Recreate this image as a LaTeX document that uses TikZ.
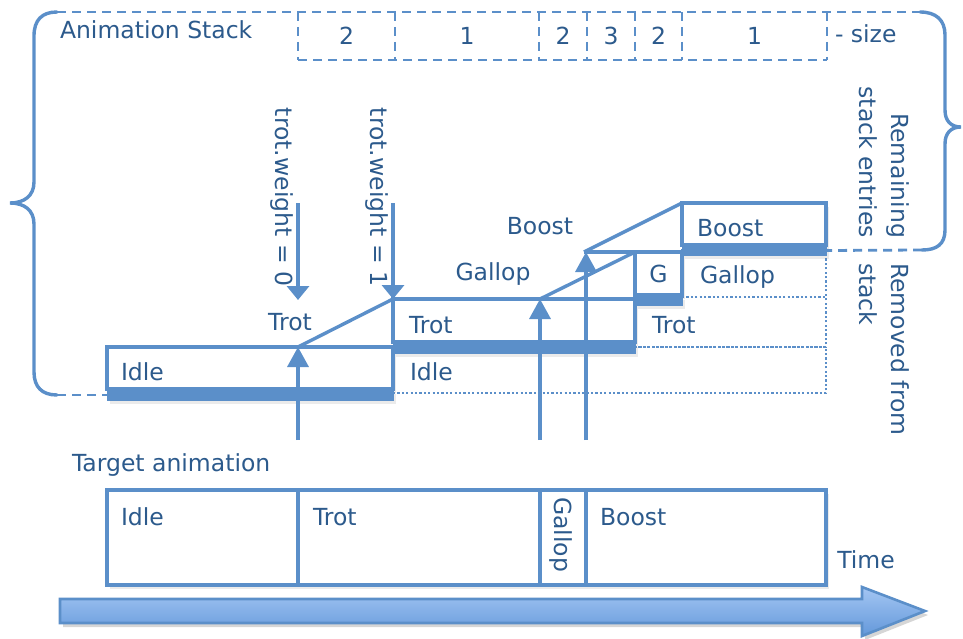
\documentclass[tikz,border=0pt]{standalone}
\usepackage{fontspec}
\setmainfont{DejaVu Sans}
\usetikzlibrary{arrows.meta,shadows}
\definecolor{ln}{HTML}{5B8FC9}
\definecolor{tx}{HTML}{2C5A8C}
\definecolor{arrtop}{HTML}{A4C6F3}
\definecolor{arrbot}{HTML}{6398DA}
\begin{document}
\begin{tikzpicture}[x=1pt,y=-1pt,
  shd/.style={drop shadow={opacity=0.16, shadow xshift=3pt, shadow yshift=-4pt}},
  lbl/.style={text=tx, font=\fontsize{23.5}{32}\selectfont, inner sep=0pt, outer sep=0pt},
  cell/.style={lbl, minimum height=48pt, anchor=north west},
  box/.style={draw=ln, line width=3.4pt, fill=white, inner sep=0pt, outer sep=0pt, anchor=north west},
  bar/.style={fill=ln, draw=ln, line width=1pt, inner sep=0pt, outer sep=0pt, anchor=north west},
  rem/.style={draw=ln, line width=2.4pt, dash pattern=on 2.2pt off 2.2pt, inner sep=0pt, outer sep=0pt, anchor=north west},
  dsh/.style={draw=ln, line width=2.8pt, dash pattern=on 9pt off 6pt},
  brace/.style={draw=ln, line width=3.4pt, line cap=round},
  ramp/.style={draw=ln, line width=3.4pt},
  uparr/.style={draw=ln, line width=3.4pt, -{Triangle[width=21pt,length=20pt]}},
  dnarr/.style={draw=ln, line width=3.4pt, -{Triangle[width=22pt,length=14pt]}},
]
\useasboundingbox (0,0) rectangle (963,639);

% ---------- stack cells ----------
\node[cell, minimum width=97pt] (c1) at (298,12) {2};
\node[cell, minimum width=144pt] (c2) at (395,12) {1};
\node[cell, minimum width=48pt] (c3) at (539,12) {2};
\node[cell, minimum width=48pt] (c4) at (587,12) {3};
\node[cell, minimum width=47pt] (c5) at (635,12) {2};
\node[cell, minimum width=145pt] (c6) at (682,12) {1};
\node[lbl, anchor=west] (size) at (835,34) {- size};
\node[lbl, anchor=west] (title) at (60,30) {Animation Stack};

\coordinate (tl) at (57,12);
\coordinate (tr) at (920,12);
\draw[dsh] (tl) -- (tr);
\draw[dsh] (c1.south west) -- (c6.south east);
\foreach \c in {c1,c2,c3,c4,c5,c6} \draw[dsh] (\c.north west) -- (\c.south west);
\draw[dsh] (c6.north east) -- (c6.south east);

% ---------- removed (dotted) entries ----------
\node[rem, minimum width=433pt, minimum height=46pt] (ridle) at (393,347) {};
\node[rem, minimum width=191pt, minimum height=50pt] (rtrot) at (635,297) {};
\node[rem, minimum width=144pt, minimum height=47pt] (rgallop) at (682,250) {};
\node[lbl, anchor=west] at (410,372) {Idle};
\node[lbl, anchor=west] at (652,325) {Trot};
\node[lbl, anchor=west] at (700,277) {Gallop};

% ---------- stack boxes ----------
\node[box, shd, minimum width=286pt, minimum height=42pt] (idle) at (107,347) {};
\node[bar, shd, minimum width=286pt, minimum height=10pt] (idlebar) at (107,390) {};
\node[box, shd, minimum width=242pt, minimum height=43pt] (trot) at (393,299) {};
\node[bar, shd, minimum width=242pt, minimum height=10pt] (trotbar) at (393,343) {};
\node[box, shd, minimum width=47pt, minimum height=43pt] (g) at (635,252) {};
\node[bar, shd, minimum width=47pt, minimum height=9pt] (gbar) at (635,296) {};
\node[box, shd, minimum width=144pt, minimum height=42pt] (boost) at (682,203) {};
\node[bar, shd, minimum width=144pt, minimum height=9pt] (boostbar) at (682,246) {};

\node[lbl, anchor=west] at (121,372) {Idle};
\node[lbl, anchor=west] at (409,325) {Trot};
\node[lbl] at (g) {G};
\node[lbl, anchor=west] at (697,228) {Boost};

% ---------- ramps ----------
\coordinate (r1a) at (298,347);
\coordinate (r2a) at (540,299);
\coordinate (r3a) at (584,252);
\draw[ramp] (r1a) -- (trot.north west);
\draw[ramp] (r2a) -- (g.north west);
\draw[ramp] (r3a) -- (boost.north west);
\draw[ramp] (r3a) -- (g.north west);
\node[lbl] at (290,322) {Trot};
\node[lbl] at (493,274) {Gallop};
\node[lbl] at (540,226) {Boost};

% ---------- braces ----------
\draw[brace] (tl) .. controls (42,12) and (34,20) .. (34,36) -- (34,182)
  .. controls (34,196) and (24,203) .. (10,203)
  .. controls (24,203) and (34,210) .. (34,224) -- (34,372)
  .. controls (34,387) and (42,395) .. (57,395) coordinate (bl);
\draw[dsh] (bl) -- (idlebar.west);
\draw[brace] (tr) .. controls (936,12) and (945,20) .. (945,35) -- (945,110)
  .. controls (945,121) and (951,127) .. (961,127)
  .. controls (951,127) and (945,133) .. (945,144) -- (945,230)
  .. controls (945,244) and (937,250) .. (922,250) coordinate (br);
\draw[dsh] (br) -- (boostbar.east);

% ---------- side labels ----------
\node[lbl, rotate=-90, anchor=east, align=right] (remain) at (884,238) {Remaining\\stack entries};
\node[lbl, rotate=-90, anchor=west, align=left] (removed) at (884,263) {Removed from\\stack};

% ---------- weight arrows ----------
\coordinate (d1s) at (298,203);
\coordinate (d1e) at (298,300);
\coordinate (d2s) at (393,203);
\draw[dnarr] (d1s) -- (d1e);
\draw[dnarr] (d2s) -- (trot.north west);
\node[lbl, rotate=-90, anchor=west] (w0) at (282,108) {trot.weight = 0};
\node[lbl, rotate=-90, anchor=west] (w1) at (377,108) {trot.weight = 1};

\coordinate (u1) at (298,440);
\coordinate (u2) at (540,440);
\coordinate (u3) at (586,440);
\coordinate (u3e) at (586,252);
\draw[uparr] (u1) -- (r1a);
\draw[uparr] (u2) -- (r2a);
\draw[uparr] (u3) -- (u3e);

% ---------- target animation ----------
\node[lbl, anchor=west] (target) at (72,465) {Target animation};
\node[box, shd, minimum width=191pt, minimum height=95pt] (t1) at (107,490) {};
\node[box, shd, minimum width=242pt, minimum height=95pt] (t2) at (298,490) {};
\node[box, shd, minimum width=46pt, minimum height=95pt] (t3) at (540,490) {};
\node[box, shd, minimum width=240pt, minimum height=95pt] (t4) at (586,490) {};
\node[lbl, anchor=west] at (121,517) {Idle};
\node[lbl, anchor=west] at (313,517) {Trot};
\node[lbl, rotate=-90, anchor=west] at (561,497) {Gallop};
\node[lbl, anchor=west] at (600,517) {Boost};
\node[lbl] (time) at (866,560) {Time};

% ---------- time arrow ----------
\fill[black, opacity=0.16] (63,603) -- (865,603) -- (865,591) -- (928,615) -- (865,640) -- (865,627) -- (63,627) -- cycle;
\draw[draw=ln, line width=2.6pt, top color=arrtop, bottom color=arrbot, line join=miter]
  (60,599) -- (862,599) -- (862,587) -- (925,611) -- (862,636) -- (862,623) -- (60,623) -- cycle;
\end{tikzpicture}
\end{document}
